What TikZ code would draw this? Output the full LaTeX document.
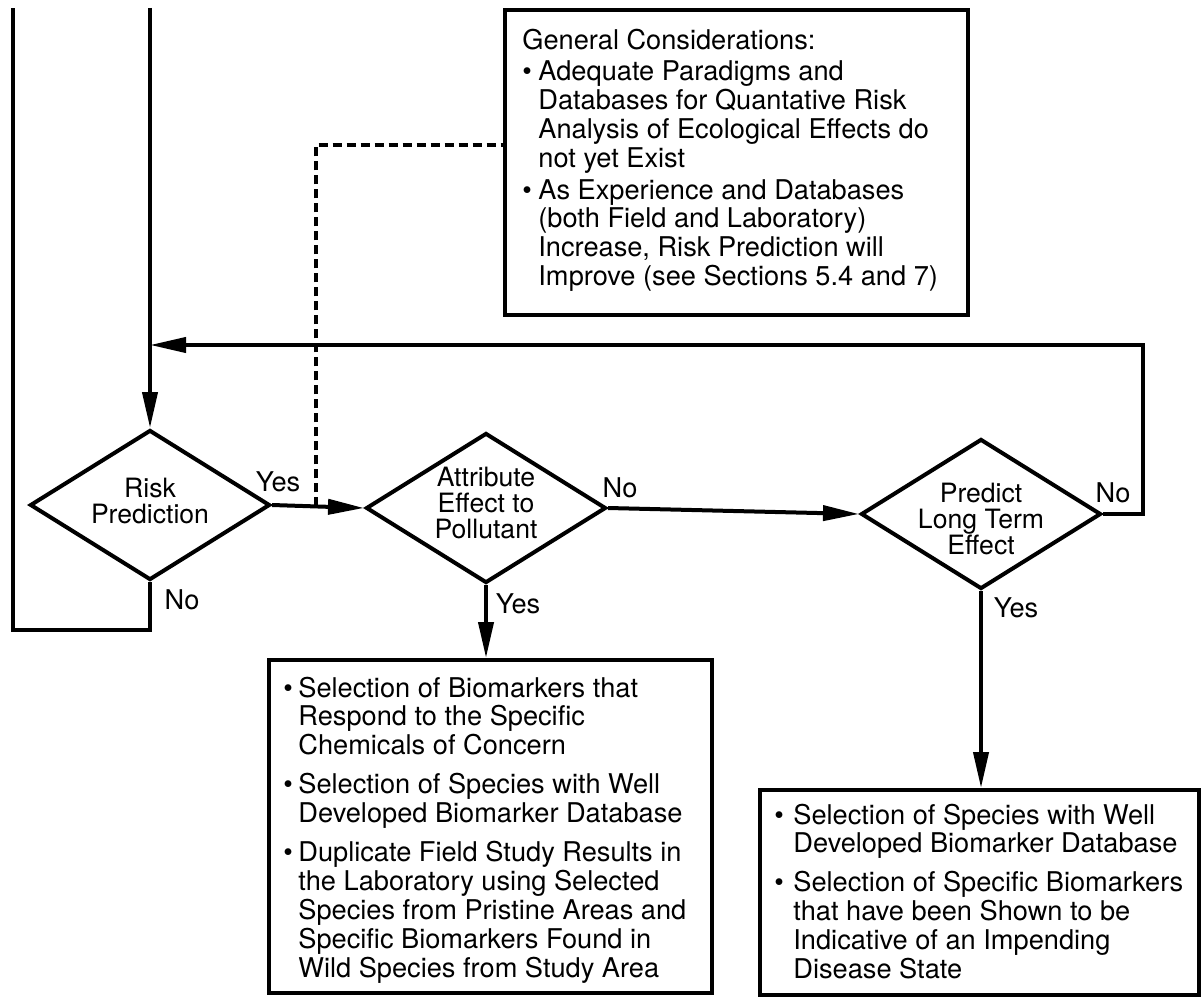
\documentclass[tikz,border=0pt]{standalone}
\usepackage{fontspec}
\setmainfont{TeX Gyre Heros}
\usetikzlibrary{arrows.meta,shapes.geometric}

% bullet set in a fixed-width box, so item text lines up
\newcommand\bulletbox[1]{\makebox[#1][l]{\textbullet}}

\tikzset{
  ln/.style={line width=2pt, line cap=butt, line join=miter},
  flow/.style={ln, -{Triangle[length=18pt,width=7.5pt]}},
  dia/.style={ln, draw, shape=diamond, minimum width=120pt, minimum height=75pt, inner sep=0pt},
  dtext/.style={align=center, inner sep=0pt, font=\fontsize{13.3}{13}\selectfont},
  lbl/.style={inner sep=0pt, font=\fontsize{13.6}{14}\selectfont},
  box/.style={ln, draw, rectangle, inner sep=0pt},
  btext/.style={anchor=base west, inner sep=0pt, font=\fontsize{13.6}{14.4}\selectfont},
  dashln/.style={line width=2pt, dash pattern=on 4.5pt off 2.5pt},
}

\begin{document}
\begin{tikzpicture}[x=0.5pt,y=-0.5pt]
\useasboundingbox (0,0) rectangle (1202,999);

% decision diamonds
\node[dia] (risk) at (150,505) {};
\node[dia] (attr) at (486,508) {};
\node[dia] (pred) at (981,514) {};
\node[dtext] (risktxt) at (150,501) {Risk\\Prediction};
\node[dtext] (attrtxt) at (486,503) {Attribute\\Effect to\\Pollutant};
\node[dtext] (predtxt) at (981,519) {Predict\\Long Term\\Effect};

% text boxes
\node[box, minimum width=231.5pt, minimum height=152.5pt] (gen) at (736.5,162.5) {};
\node[box, minimum width=221.5pt, minimum height=166.5pt] (sel) at (490.5,826.5) {};
\node[box, minimum width=219.5pt, minimum height=102.5pt] (spec) at (979.5,892.5) {};

\node[btext] (gentxt) at (522,50) {\begin{tabular}[t]{@{}l@{}l@{}}
\multicolumn{2}{@{}l@{}}{General Considerations:}\\[1pt]
\bulletbox{8pt} & Adequate Paradigms and\\
 & Databases for Quantative Risk\\
 & Analysis of Ecological Effects do\\
 & not yet Exist\\[1.5pt]
\bulletbox{8pt} & As Experience and Databases\\
 & (both Field and Laboratory)\\
 & Increase, Risk Prediction will\\
 & Improve (see Sections 5.4 and 7)
\end{tabular}};

\node[btext] (seltxt) at (283,697) {\begin{tabular}[t]{@{}l@{}l@{}}
\bulletbox{7.5pt} & Selection of Biomarkers that\\
 & Respond to the Specific\\
 & Chemicals of Concern\\[5pt]
\bulletbox{7.5pt} & Selection of Species with Well\\
 & Developed Biomarker Database\\[5pt]
\bulletbox{7.5pt} & Duplicate Field Study Results in\\
 & the Laboratory using Selected\\
 & Species from Pristine Areas and\\
 & Specific Biomarkers Found in\\
 & Wild Species from Study Area
\end{tabular}};

\node[btext] (spectxt) at (774,824) {\begin{tabular}[t]{@{}l@{}l@{}}
\bulletbox{9.5pt} & Selection of Species with Well\\
 & Developed Biomarker Database\\[5pt]
\bulletbox{9.5pt} & Selection of Specific Biomarkers\\
 & that have been Shown to be\\
 & Indicative of an Impending\\
 & Disease State
\end{tabular}};

% route points
\coordinate (topin) at (150,8);
\coordinate (looptop) at (13,8);
\coordinate (loopbot) at (150,630);
\coordinate (fbr) at (1143,345);
\coordinate (fbl) at (150,345);
\coordinate (dsh) at (316,506.4);
\coordinate (dshtop) at (316,145);

% connectors
\draw[flow] (topin) -- (risk.north);
\draw[ln] (risk.south) -- (loopbot) -| (looptop);
\draw[flow] (risk.east) -- (attr.west);
\draw[flow] (attr.east) -- (pred.west);
\draw[flow] (pred.east) -| (fbr) -- (fbl);
\draw[flow] (attr.south) -- (attr.south |- sel.north);
\draw[flow] (pred.south) -- (pred.south |- spec.north);
\draw[dashln] (dsh) -- (dshtop) -- (dshtop -| gen.west);

% branch labels
\node[lbl] (yes1) at (278,482) {Yes};
\node[lbl] (no1) at (182,600) {No};
\node[lbl] (no2) at (620,488) {No};
\node[lbl] (yes2) at (518,604) {Yes};
\node[lbl] (no3) at (1113,493) {No};
\node[lbl] (yes3) at (1016,608) {Yes};
\end{tikzpicture}
\end{document}
